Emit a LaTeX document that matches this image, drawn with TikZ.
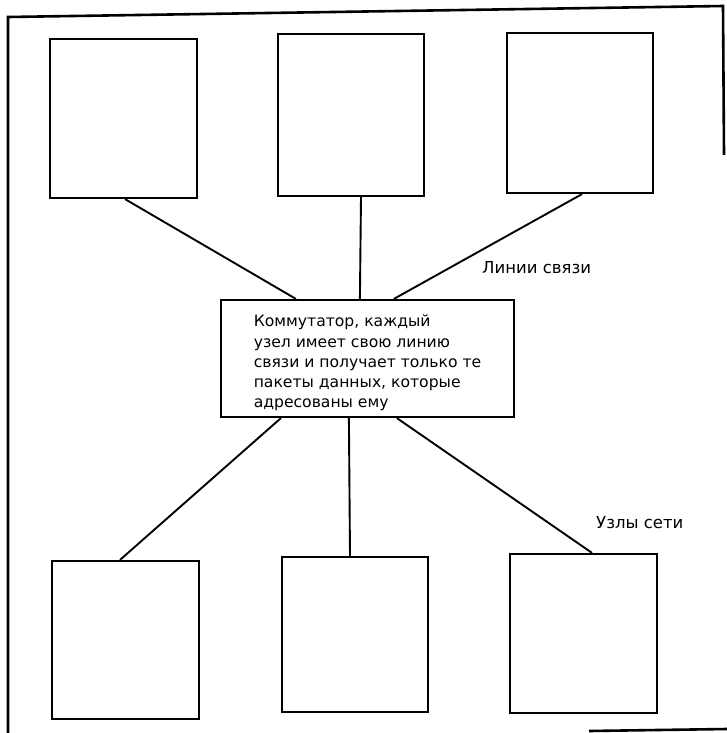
\documentclass[tikz,border=0pt]{standalone}
\usepackage{fontspec}
\setmainfont{DejaVu Sans}
\begin{document}
\begin{tikzpicture}[x=1pt,y=-1pt,
  nodebox/.style={draw,line width=2.2pt,inner sep=0pt},
  link/.style={line width=1.9pt},
  frameline/.style={line width=2.6pt},
  lbl/.style={font=\fontsize{16.5}{19}\selectfont,inner sep=0pt,anchor=west}]
\useasboundingbox (0,0) rectangle (727,733);
% frame
\draw[frameline] (8,733) -- (8,17) -- (723,6) -- (724,155);
\draw[frameline] (589,731) -- (727,729);
% top nodes
\node[nodebox,minimum width=147pt,minimum height=159pt] (tl) at (123.5,118.5) {};
\node[nodebox,minimum width=146pt,minimum height=162pt] (tm) at (351,115) {};
\node[nodebox,minimum width=146pt,minimum height=160pt] (tr) at (580,113) {};
% switch
\node[nodebox,minimum width=293pt,minimum height=117pt,align=left,
  font=\fontsize{15.6}{20.3}\selectfont] (c) at (367.5,358.5)
  {\rule{0pt}{21pt}Коммутатор, каждый\\узел имеет свою линию\\связи и получает только те\\пакеты данных, которые\\адресованы ему};
% bottom nodes
\node[nodebox,minimum width=147pt,minimum height=158pt] (bl) at (125.5,640) {};
\node[nodebox,minimum width=146pt,minimum height=155pt] (bm) at (355,634.5) {};
\node[nodebox,minimum width=147pt,minimum height=159pt] (br) at (583.5,633.5) {};
% links
\draw[link] ([xshift=1.5pt]tl.south) -- ([xshift=76pt]c.north west);
\draw[link] ([xshift=10pt]tm.south) -- ([xshift=140pt]c.north west);
\draw[link] ([xshift=2pt]tr.south) -- ([xshift=174pt]c.north west);
\draw[link] ([xshift=61pt]c.south west) -- ([xshift=-5.5pt]bl.north);
\draw[link] ([xshift=129pt]c.south west) -- ([xshift=-5pt]bm.north);
\draw[link] ([xshift=177pt]c.south west) -- ([xshift=8.5pt]br.north);
% labels
\node[lbl] (l1) at (482,268) {Линии связи};
\node[lbl] (l2) at (596,523) {Узлы сети};
\end{tikzpicture}
\end{document}
